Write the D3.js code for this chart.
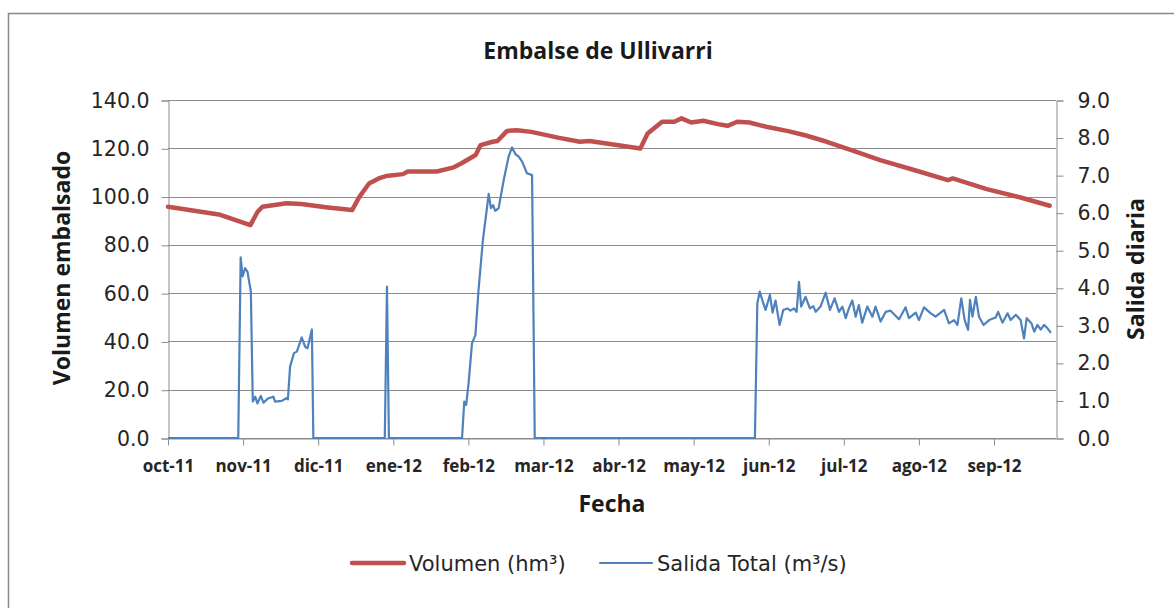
<!DOCTYPE html>
<html lang="es">
<meta charset="utf-8">
<title>Embalse de Ullivarri</title>
<script src="https://d3js.org/d3.v7.min.js"></script>
<body>
<div id="chart"></div>
</body>

<style>
body {
  margin: 0;
  background-color: white;
}
.tickText {
  fill: #262626;
  font-family: "DejaVu Sans", sans-serif;
  font-size: 20.5px;
}
.xText {
  fill: #262626;
  font-family: "Open Sans", sans-serif;
  font-weight: bold;
  font-size: 17px;
}
.titleText {
  fill: #1a1a1a;
  font-family: "Open Sans", sans-serif;
  font-weight: bold;
}
.legendText {
  fill: #262626;
  font-family: "DejaVu Sans", sans-serif;
  font-size: 21px;
}
</style>

<script>
    // x is a day index counted from 1 oct 2011 (Excel category axis, label every 31 days)
    let monthLabels = ["oct-11", "nov-11", "dic-11", "ene-12", "feb-12", "mar-12",
                       "abr-12", "may-12", "jun-12", "jul-12", "ago-12", "sep-12"];
    let monthTickDays = [0, 31, 62, 93, 124, 155, 186, 217, 248, 279, 310, 341];

    let leftTicks = [0, 20, 40, 60, 80, 100, 120, 140];
    let rightTicks = [0, 1, 2, 3, 4, 5, 6, 7, 8, 9];

    // Volumen (hm3)
    let volDays = [0, 21, 34, 37, 39, 49, 55, 66, 76, 79, 83, 87, 90, 97, 99, 111, 118, 121,
                   127, 129, 134, 136, 140, 144, 150, 161, 170, 174, 195, 198, 204, 209, 212,
                   216, 221, 227, 231, 235, 240, 247, 256, 263, 272, 283, 294, 308, 322, 324,
                   338, 352, 364];
    let volValues = [95.8, 92.6, 88.2, 93.7, 95.8, 97.2, 96.9, 95.5, 94.4, 99.9, 105.4, 107.5,
                     108.5, 109.3, 110.4, 110.4, 112.1, 113.7, 117.2, 121.3, 122.7, 123.0, 127.2,
                     127.5, 126.8, 124.4, 122.7, 123.0, 119.9, 126.1, 131.0, 131.0, 132.4, 130.7,
                     131.4, 130.0, 129.3, 131.0, 130.7, 128.9, 127.1, 125.4, 122.7, 118.9, 115.1,
                     111.0, 106.8, 107.5, 103.1, 99.6, 96.2];

    // Salida Total (m3/s)
    let flowDays = [0, 29, 30, 30.8, 31.8, 32.8, 34.2, 35, 36, 36.9, 38.3, 39.4, 41.5, 43.5,
                    44.2, 47, 48.8, 49.5, 50.4, 52, 53.2, 55.2, 56.6, 57.6, 59.4, 60,
                    89.5, 90.4, 91.2, 121.4, 122.3, 123.1, 124.1, 125.5, 126.9, 128.2, 130,
                    132.4, 133.3, 134.2, 135.1, 136.5, 138.6, 140.6, 142, 143.4, 144.8, 146.2,
                    148.2, 150.3, 151.4, 242.3, 243.3, 244.3, 245.3, 246.7, 248.5, 249.6,
                    250.8, 252.5, 254, 255.7, 257, 258.4, 259.5, 260.5, 261.4, 263.2, 265,
                    266.4, 267.4, 269.4, 271.5, 273.3, 275.2, 277, 278.4, 279.8, 281.1, 282.5,
                    283.9, 285.2, 286.6, 288.7, 290.8, 292.1, 294.2, 296.3, 298.3, 301.8,
                    304.5, 305.9, 308.7, 310, 312.1, 314.9, 316.9, 320.4, 322.4, 324.5, 325.9,
                    327.5, 328.9, 330.3, 331.1, 332.1, 333.5, 334.8, 336.7, 339, 341.7, 342.7,
                    344.5, 346.6, 347.9, 350, 352, 353.4, 354.5, 356.5, 357.6, 358.9, 360.3,
                    361.7, 363.1, 364.5];
    let flowValues = [0, 0, 4.81, 4.30, 4.52, 4.43, 3.90, 0.97, 1.10, 0.92, 1.12, 0.94, 1.06,
                      1.10, 0.97, 0.99, 1.06, 1.03, 1.90, 2.26, 2.30, 2.68, 2.43, 2.39, 2.89, 0,
                      0, 4.03, 0, 0, 0.97, 0.88, 1.46, 2.52, 2.74, 3.94, 5.27,
                      6.50, 6.12, 6.20, 6.05, 6.12, 6.87, 7.49, 7.74, 7.56, 7.49, 7.36,
                      7.05, 7.00, 0, 0, 3.59, 3.90, 3.68, 3.41, 3.81, 3.34,
                      3.66, 3.01, 3.41, 3.45, 3.39, 3.45, 3.36, 4.16, 3.50, 3.76, 3.45,
                      3.51, 3.36, 3.50, 3.87, 3.41, 3.72, 3.36, 3.50, 3.19, 3.45, 3.66,
                      3.23, 3.54, 3.07, 3.50, 3.23, 3.50, 3.10, 3.36, 3.39, 3.16,
                      3.48, 3.19, 3.34, 3.14, 3.48, 3.32, 3.23, 3.41, 3.05, 3.14, 3.01,
                      3.72, 3.14, 2.88, 3.68, 3.23, 3.76, 3.23, 3.01, 3.14, 3.21, 3.36,
                      3.07, 3.32, 3.14, 3.28, 3.14, 2.65, 3.19, 3.05, 2.83, 3.01, 2.89,
                      3.01, 2.92, 2.80];

    let W = 1174, H = 608;
    let plot = {left: 168, right: 1056, top: 100, bottom: 438};

    let svg = d3.select("#chart")
      .append("svg")
        .attr("width", W)
        .attr("height", H);

    // outer chart border (only left and top edges are in view)
    svg.append("rect")
      .attr("x", 8.5).attr("y", 13.5)
      .attr("width", 1300).attr("height", 800)
      .attr("fill", "white")
      .attr("stroke", "#888888")
      .attr("stroke-width", 1.5);

    // ---------------------------//
    //       AXIS  AND SCALE      //
    // ---------------------------//
    let x = d3.scaleLinear()
      .domain([0, 366.6])
      .range([plot.left, plot.right]);

    let y = d3.scaleLinear()
      .domain([0, 140])
      .range([plot.bottom, plot.top]);

    let y2 = d3.scaleLinear()
      .domain([0, 9])
      .range([plot.bottom, plot.top]);

    // gridlines
    svg.append("g")
      .selectAll("line")
      .data(leftTicks)
      .enter()
      .append("line")
        .attr("x1", plot.left).attr("x2", plot.right)
        .attr("y1", d => Math.round(y(d)) + 0.5)
        .attr("y2", d => Math.round(y(d)) + 0.5)
        .attr("stroke", "#8c8c8c")
        .attr("stroke-width", 1);

    // left axis
    let leftAxis = svg.append("g")
      .attr("transform", "translate(" + (plot.left + 0.5) + ",0.5)")
      .call(d3.axisLeft(y).tickValues(leftTicks).tickFormat(d3.format(".1f")).tickSize(7).tickPadding(12));
    leftAxis.selectAll("path, line").attr("stroke", "#8c8c8c");
    leftAxis.selectAll("text").attr("class", "tickText").attr("font-size", null).attr("font-family", null);

    // right axis
    let rightAxis = svg.append("g")
      .attr("transform", "translate(" + (plot.right + 0.5) + ",0.5)")
      .call(d3.axisRight(y2).tickValues(rightTicks).tickFormat(d3.format(".1f")).tickSize(7).tickPadding(14));
    rightAxis.selectAll("path, line").attr("stroke", "#8c8c8c");
    rightAxis.selectAll("text").attr("class", "tickText").attr("font-size", null).attr("font-family", null);

    // bottom axis
    let bottomAxis = svg.append("g")
      .attr("transform", "translate(0," + (plot.bottom + 0.5) + ")")
      .call(d3.axisBottom(x).tickValues(monthTickDays)
        .tickFormat((d, i) => monthLabels[i]).tickSize(7).tickPadding(14).tickSizeOuter(0));
    bottomAxis.selectAll("path, line").attr("stroke", "#8c8c8c");
    bottomAxis.selectAll("text").attr("class", "xText").attr("font-size", null).attr("font-family", null);

    // ---------------------------//
    //       LINES                //
    // ---------------------------//
    let volData = volDays.map((d, i) => [d, volValues[i]]);
    let flowData = flowDays.map((d, i) => [d, flowValues[i]]);

    svg.append("path")
      .datum(flowData)
      .attr("fill", "none")
      .attr("stroke", "#4f81bd")
      .attr("stroke-width", 2.2)
      .attr("stroke-linejoin", "round")
      .attr("d", d3.line().x(d => x(d[0])).y(d => y2(d[1])));

    svg.append("path")
      .datum(volData)
      .attr("fill", "none")
      .attr("stroke", "#c0504d")
      .attr("stroke-width", 4.5)
      .attr("stroke-linejoin", "round")
      .attr("stroke-linecap", "round")
      .attr("d", d3.line().x(d => x(d[0])).y(d => y(d[1])));

    // ---------------------------//
    //       TITLES               //
    // ---------------------------//
    svg.append("text")
      .attr("class", "titleText")
      .attr("font-size", 23)
      .attr("text-anchor", "middle")
      .attr("x", 598).attr("y", 59)
      .text("Embalse de Ullivarri");

    svg.append("text")
      .attr("class", "titleText")
      .attr("font-size", 23)
      .attr("text-anchor", "middle")
      .attr("x", 612).attr("y", 512)
      .text("Fecha");

    svg.append("text")
      .attr("class", "titleText")
      .attr("font-size", 23)
      .attr("text-anchor", "middle")
      .attr("transform", "translate(70,268) rotate(-90)")
      .text("Volumen embalsado");

    svg.append("text")
      .attr("class", "titleText")
      .attr("font-size", 23)
      .attr("text-anchor", "middle")
      .attr("transform", "translate(1144,269) rotate(-90)")
      .text("Salida diaria");

    // ---------------------------//
    //       LEGEND               //
    // ---------------------------//
    let legendItems = [
      {label: "Volumen (hm³)", color: "#c0504d", width: 4.5, x: 352},
      {label: "Salida Total (m³/s)", color: "#4f81bd", width: 2.2, x: 600}
    ];
    let legend = svg.append("g");
    legend.selectAll("line")
      .data(legendItems)
      .enter()
      .append("line")
        .attr("x1", d => d.x).attr("x2", d => d.x + 52)
        .attr("y1", 563).attr("y2", 563)
        .attr("stroke", d => d.color)
        .attr("stroke-width", d => d.width)
        .attr("stroke-linecap", "round");
    legend.selectAll("text")
      .data(legendItems)
      .enter()
      .append("text")
        .attr("class", "legendText")
        .attr("x", d => d.x + 57)
        .attr("y", 571)
        .text(d => d.label);
</script>
</html>
